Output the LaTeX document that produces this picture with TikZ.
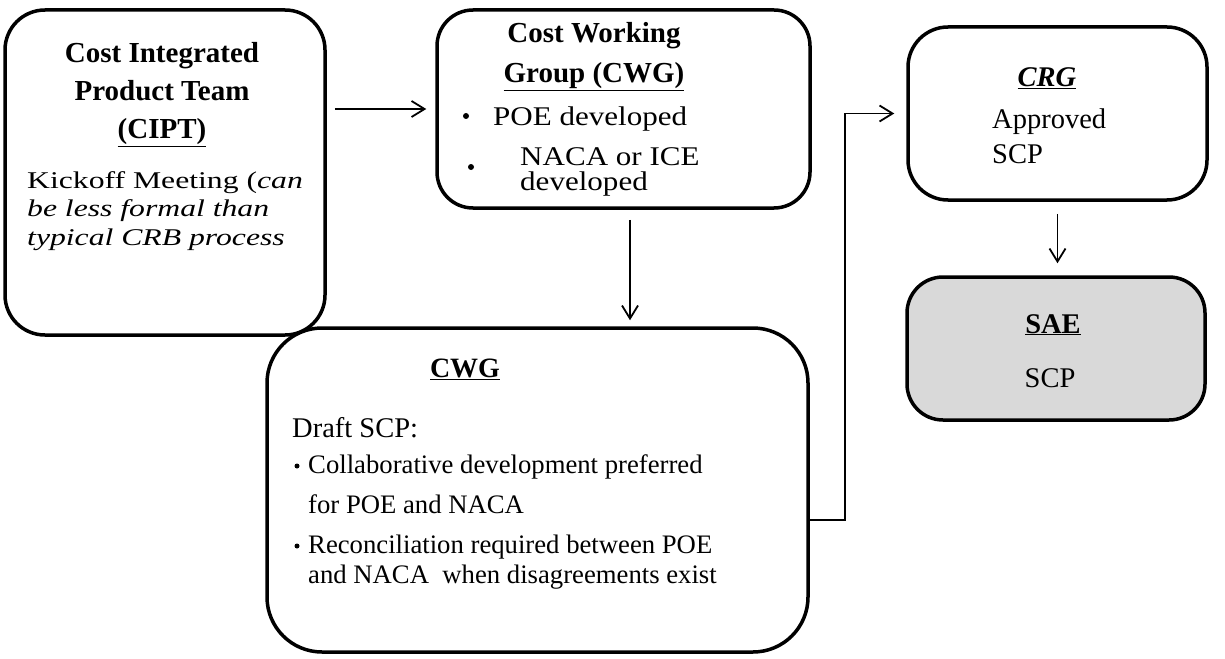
\documentclass[tikz,border=0pt]{standalone}
\usepackage{fontspec}
\setmainfont{Liberation Serif}
\newfontfamily\widefont[FakeStretch=1.32]{Liberation Serif}
\newfontfamily\midfont[FakeStretch=1.15]{Liberation Serif}
\usetikzlibrary{arrows.meta}
\definecolor{mygray}{RGB}{217,217,217}
\newcommand{\boxline}{3.5pt}
\newcommand{\titlefont}{\bfseries\fontsize{29}{38}\selectfont}
\newcommand{\bodyfont}[2]{\fontsize{#1}{#2}\selectfont}
\tikzset{
    box/.style={draw, rectangle, rounded corners=#1, line width=\boxline, inner sep=0pt},
    txt/.style={inner sep=0pt, align=left, anchor=base west},
    ttl/.style={inner sep=0pt, align=center, anchor=base, font=\titlefont},
    bul/.style={circle, fill, inner sep=0pt, minimum size=5pt},
    arr/.style={-{Straight Barb[length=13pt, width=16pt]}, line width=1.8pt}
}

\begin{document}
\begin{tikzpicture}[x=1pt, y=-1pt]
        \useasboundingbox (0,0) rectangle (1225,658);
        \node[box=40pt, minimum width=320pt, minimum height=325pt] (CIPT) at (165,172.5) {};
        \node[box=36pt, minimum width=373pt, minimum height=198pt] (CWG) at (623.5,109) {};
        \node[box=55pt, minimum width=541pt, minimum height=324pt] (DRAFT) at (537.5,490) {};
        \node[box=40pt, minimum width=299pt, minimum height=173pt] (CRG) at (1057.5,113.5) {};
        \node[box=36pt, fill=mygray, minimum width=298pt, minimum height=143pt] (SAE) at (1056,348.5) {};

        \node[ttl] (CIPTtitle) at (162,139) {Cost Integrated\\Product Team\\\underline{(CIPT)}};
        \node[txt, font=\widefont\bodyfont{24}{28.5}] (CIPTtext) at (27,245)
            {Kickoff Meeting (\textit{can}\\\textit{be less formal than}\\\textit{typical CRB process}};

        \node[ttl, font=\titlefont\fontsize{29}{40}\selectfont] (CWGtitle) at (594,83) {Cost Working\\\underline{Group (CWG)}};
        \node[bul, minimum size=6pt] (CWGb1) at (466,116) {};
        \node[txt, font=\midfont\bodyfont{27}{36}] (CWGt1) at (493,125) {POE developed};
        \node[bul, minimum size=6pt] (CWGb2) at (471,167) {};
        \node[txt, font=\midfont\bodyfont{27}{25}] (CWGt2) at (520,190) {NACA or ICE\\developed};

        \node[ttl, font=\titlefont\fontsize{28}{34}\selectfont] (DRAFTtitle) at (465,377) {\underline{CWG}};
        \node[txt, font=\bodyfont{28.5}{34}] (DRAFTtext) at (292,437) {Draft SCP:};
        \node[bul] (DRAFTb1) at (297,466) {};
        \node[txt, font=\bodyfont{26.7}{40}] (DRAFTt1) at (308,513) {Collaborative development preferred\\for POE and NACA};
        \node[bul] (DRAFTb2) at (297,546) {};
        \node[txt, font=\bodyfont{26.7}{30}] (DRAFTt2) at (308,583) {Reconciliation required between POE\\and NACA\ \ when disagreements exist};

        \node[ttl, font=\titlefont\itshape\fontsize{28.5}{34}\selectfont] (CRGtitle) at (1047,87) {\underline{CRG}};
        \node[txt, font=\bodyfont{28.5}{35}] (CRGtext) at (992,163) {Approved\\SCP};

        \node[ttl, font=\titlefont\fontsize{28.5}{34}\selectfont] (SAEtitle) at (1053,333) {\underline{SAE}};
        \node[txt, anchor=base, font=\bodyfont{28.5}{34}] (SAEtext) at (1050,387) {SCP};

        \draw[arr, shorten <=8pt, shorten >=9pt] (CIPT.east |- CWG.west) -- (CWG.west);
        \draw[arr, shorten <=10pt, shorten >=6pt] ([xshift=6.5pt]CWG.south) -- ([xshift=6.5pt]CWG.south |- DRAFT.north);
        \draw[arr, shorten >=12pt] ([yshift=-30pt]DRAFT.east) -- ++(35,0) |- (CRG.west);
        \draw[arr, shorten <=12pt, shorten >=12pt] (CRG.south) -- (CRG.south |- SAE.north);
    \end{tikzpicture}
\end{document}
